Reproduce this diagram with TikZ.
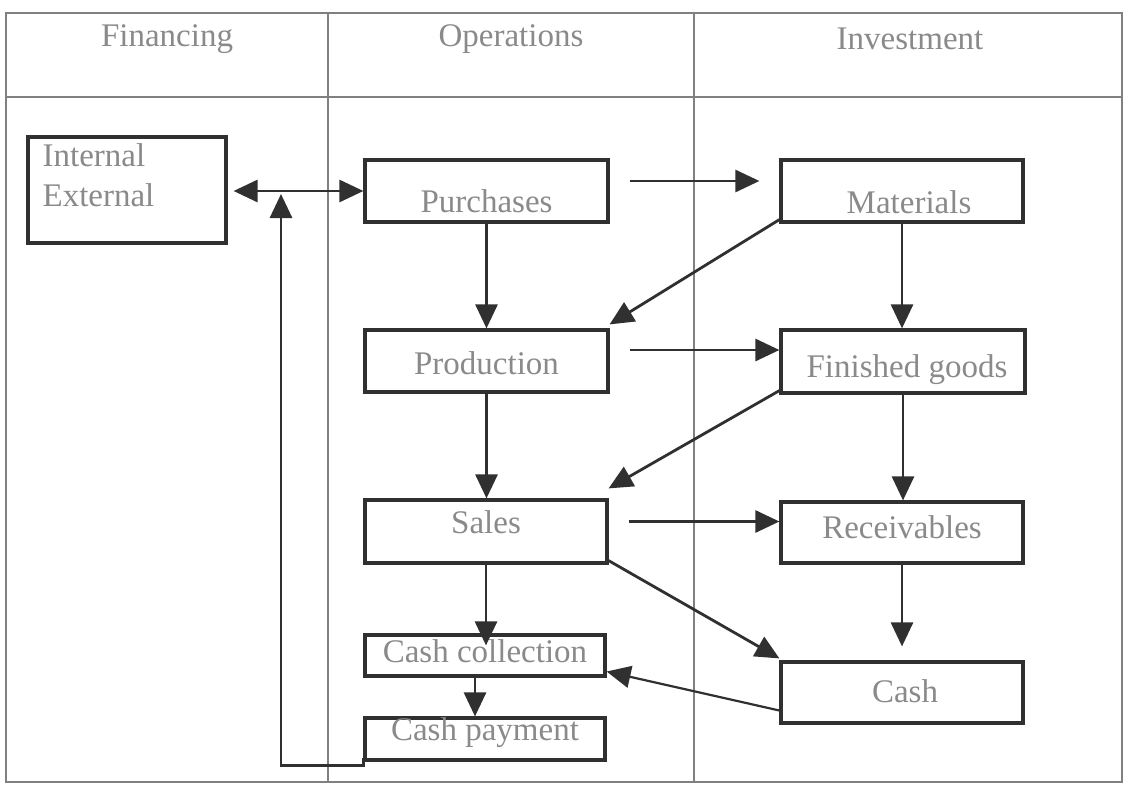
\documentclass[tikz,border=0pt]{standalone}
\usepackage{fontspec}
\setmainfont{Liberation Serif}
\usetikzlibrary{arrows.meta}
\definecolor{txtc}{HTML}{8A8A8A}
\definecolor{lnc}{HTML}{303030}
\definecolor{frc}{HTML}{808080}
\tikzset{
  box/.style={draw=lnc, line width=3.2pt, inner sep=0pt, text=txtc,
    font=\fontsize{33}{40}\selectfont},
  bl/.style={text height=#1, text depth=0pt},
  head/.style={text=txtc, font=\fontsize{33}{40}\selectfont, inner sep=0pt},
  frame/.style={draw=frc, line width=1.4pt},
  arr/.style={draw=lnc, line width=2.8pt, -{Triangle[length=24pt,width=22pt]}},
  darr/.style={draw=lnc, line width=2.8pt, {Triangle[length=24pt,width=22pt]}-{Triangle[length=24pt,width=22pt]}}
}
\begin{document}
\begin{tikzpicture}[x=1pt,y=-1pt]
\useasboundingbox[fill=white] (0,0) rectangle (1126,785);
% frame
\draw[frame] (6,13) rectangle (1122,782);
\draw[frame] (6,97) -- (1122,97);
\draw[frame] (328,13) -- (328,782);
\draw[frame] (694,13) -- (694,782);
% headers
\node[head] (hfin) at (167,39) {Financing};
\node[head] (hops) at (511,39) {Operations};
\node[head] (hinv) at (910,39) {Investment};
% boxes
\node[box, minimum width=198pt, minimum height=106pt,
  label={[anchor=north west, align=left, text=txtc, yshift=-8pt, font=\fontsize{33}{40}\selectfont, inner sep=0pt]north west:{\hspace*{16pt}Internal\\\hspace*{16pt}External}}] (ie) at (127,190) {};
\node[box, bl=42pt, minimum width=243pt, minimum height=62pt] (pur) at (486.5,191) {Purchases};
\node[box, bl=44pt, minimum width=242pt, minimum height=62pt] (mat) at (902,191) {\hspace*{14pt}Materials};
\node[box, bl=26pt, minimum width=243pt, minimum height=62pt] (prod) at (486.5,361) {Production};
\node[box, bl=32pt, minimum width=244pt, minimum height=63pt] (fin) at (903,361.5) {\hspace*{8pt}Finished goods};
\node[box, bl=4pt, minimum width=242pt, minimum height=63pt] (sales) at (486,531.5) {Sales};
\node[box, bl=12pt, minimum width=242pt, minimum height=61pt] (rec) at (902,532.5) {Receivables};
\node[box, bl=13pt, minimum width=240pt, minimum height=41pt] (cc) at (485,655.5) {Cash collection};
\node[box, bl=2pt, minimum width=240pt, minimum height=42pt] (cp) at (485,739) {Cash payment};
\node[box, bl=20pt, minimum width=242pt, minimum height=61pt] (cash) at (902,692.5) {\hspace*{6pt}Cash};
% connectors
\draw[darr] ([xshift=6pt]ie.east |- pur.west) -- (pur.west);
\coordinate (jn) at (281,191);
\draw[arr] ([yshift=4pt]cp.south west) -- ++(0,8) -| ([yshift=-3pt]jn);
\draw[arr] ([shift={(20,-10)}]pur.east) coordinate (a1) -- ([xshift=-20pt]mat.west |- a1);
\draw[arr] (pur.south) -- (prod.north);
\draw[arr] ([yshift=4pt]mat.south west) -- ([yshift=4pt]prod.north east);
\draw[arr] (mat.south) -- (mat.south |- fin.north);
\draw[arr] ([shift={(20,-11)}]prod.east) coordinate (a2) -- (fin.west |- a2);
\draw[arr] (prod.south) -- (prod.south |- sales.north);
\draw[arr] ([yshift=4pt]fin.south west) -- ([yshift=10pt]sales.north east);
\draw[arr] (fin.south) -- (fin.south |- rec.north);
\draw[arr] ([shift={(20,-10)}]sales.east) coordinate (a3) -- (rec.west |- a3);
\draw[arr] ([yshift=4pt]sales.south east) -- ([yshift=2pt]cash.north west);
\draw[arr] (rec.south) -- ([yshift=14pt]rec.south |- cash.north);
\draw[arr] (sales.south) -- ([yshift=-12pt]sales.south |- cc.north);
\draw[arr] ([xshift=-10pt]cc.south) -- ([xshift=-10pt]cp.north);
\draw[arr, line width=2.2pt] ([yshift=-18pt]cash.west) -- ([yshift=-16pt]cc.east);
\end{tikzpicture}
\end{document}
